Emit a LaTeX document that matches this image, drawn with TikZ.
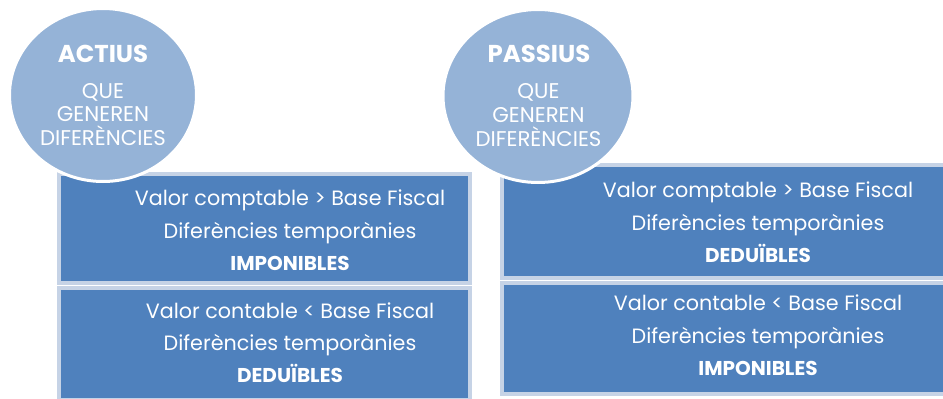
\documentclass[tikz,border=0pt]{standalone}
\usepackage{fontspec}
\setmainfont{Poppins}
\definecolor{boxblue}{RGB}{79,129,189}
\definecolor{boxedge}{RGB}{198,211,230}
\definecolor{circblue}{RGB}{149,179,215}
\begin{document}
\begin{tikzpicture}[x=1pt,y=-1pt,
  panel/.style={fill=boxblue,draw=boxedge,line width=3.5pt},
  bubble/.style={fill=circblue,draw=white,line width=3pt},
  bodytxt/.style={anchor=base,text=white,inner sep=0pt,font=\fontsize{20.7}{24}\selectfont},
  boldtxt/.style={anchor=base,text=white,inner sep=0pt,font=\fontsize{20}{24}\selectfont\bfseries},
  headtxt/.style={anchor=base,text=white,inner sep=0pt,font=\fontsize{24.4}{28}\selectfont\bfseries},
  captxt/.style={anchor=base,text=white,inner sep=0pt,font=\fontsize{21.3}{24}\selectfont}]
\useasboundingbox (0,0) rectangle (943,399);
\begin{scope}
\clip (0,0) rectangle (943,399);
% panels
\draw[panel] (59,174) rectangle (470,283);
\draw[panel] (59,288) rectangle (470,400);
\draw[panel] (502,165) rectangle (948,278);
\draw[panel] (502,283) rectangle (948,394);
% bubbles
\draw[bubble] (103,95) ellipse [x radius=93.5, y radius=86.5];
\draw[bubble] (538,96) ellipse [x radius=95, y radius=86.5];
\end{scope}
% bubble texts
\node[headtxt] (a1) at (103,62) {ACTIUS};
\node[captxt] (a2) at (103,98) {QUE};
\node[captxt] (a3) at (103,121) {GENEREN};
\node[captxt] (a4) at (103,145) {DIFERÈNCIES};
\node[headtxt] (p1) at (539,62) {PASSIUS};
\node[captxt] (p2) at (538.5,98) {QUE};
\node[captxt] (p3) at (538.5,122) {GENEREN};
\node[captxt] (p4) at (538.5,146) {DIFERÈNCIES};
% left panels text
\node[bodytxt] (l1) at (290,205) {Valor comptable > Base Fiscal};
\node[bodytxt] (l2) at (290,238) {Diferències temporànies};
\node[boldtxt] (l3) at (290,270) {IMPONIBLES};
\node[bodytxt] (l4) at (290,318) {Valor contable < Base Fiscal};
\node[bodytxt] (l5) at (290,350) {Diferències temporànies};
\node[boldtxt] (l6) at (290,382) {DEDUÏBLES};
% right panels text
\node[bodytxt] (r1) at (758,197) {Valor comptable > Base Fiscal};
\node[bodytxt] (r2) at (758,230) {Diferències temporànies};
\node[boldtxt] (r3) at (758,262) {DEDUÏBLES};
\node[bodytxt] (r4) at (758,310) {Valor contable < Base Fiscal};
\node[bodytxt] (r5) at (758,343) {Diferències temporànies};
\node[boldtxt] (r6) at (758,375) {IMPONIBLES};
\end{tikzpicture}
\end{document}
